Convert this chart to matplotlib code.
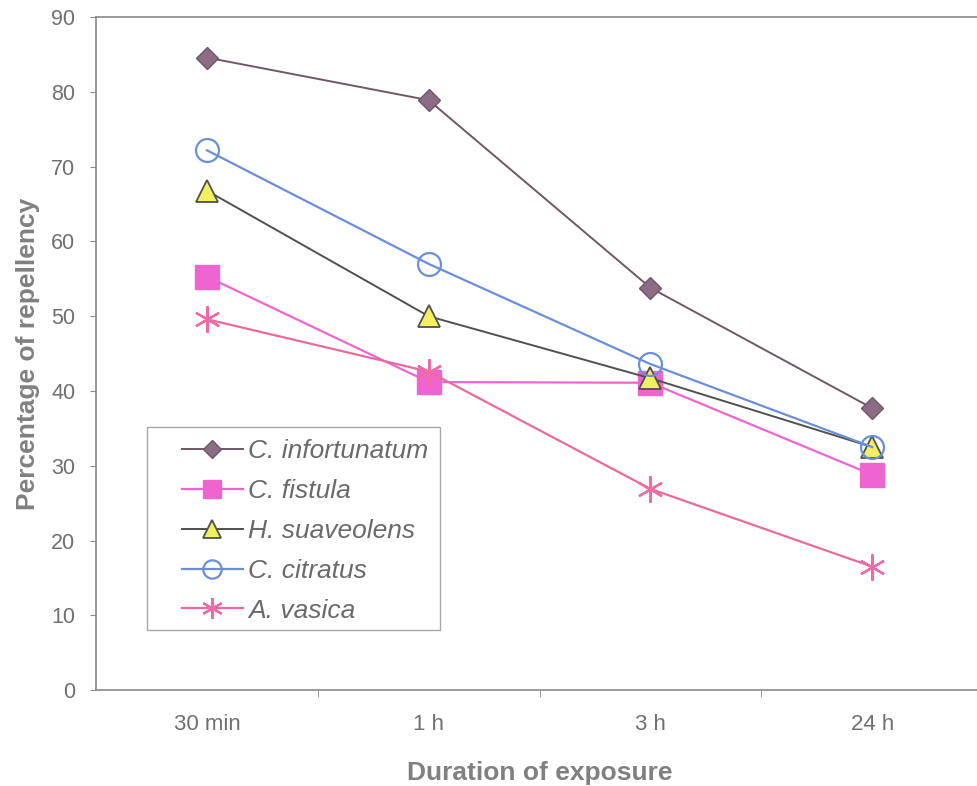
import matplotlib
matplotlib.use("Agg")
import matplotlib.pyplot as plt
from matplotlib.patches import Rectangle
from matplotlib.ticker import FixedLocator

plt.rcParams["font.family"] = ["Liberation Sans", "DejaVu Sans"]

durations = ["30 min", "1 h", "3 h", "24 h"]

c_infortunatum = [84.6, 78.9, 53.8, 37.7]
c_fistula = [55.3, 41.2, 41.1, 28.8]
h_suaveolens = [66.8, 50.0, 41.7, 32.5]
c_citratus = [72.2, 57.0, 43.6, 32.5]
a_vasica = [49.6, 42.6, 26.9, 16.5]

GREY = "#8a8a8a"
TEXT = "#707070"

fig = plt.figure(figsize=(9.77, 7.86), dpi=100)
# right spine falls just past the edge of the canvas
ax = fig.add_axes([0.0983, 0.1221, 0.908, 0.856])

x = list(range(len(durations)))

ax.plot(x, c_infortunatum, color="#6e5868", lw=1.4, marker="D", ms=11.5,
        mfc="#8c6c84", mec="#6e5868", mew=1, label="C. infortunatum", zorder=3)
ax.plot(x, c_fistula, color="#f064d2", lw=1.6, marker="s", ms=17,
        mfc="#f064d2", mec="#f064d2", label="C. fistula", zorder=3)
ax.plot(x, h_suaveolens, color="#505050", lw=1.4, marker="^", ms=16,
        mfc="#f2f060", mec="#505050", mew=1.3, label="H. suaveolens", zorder=4)
ax.plot(x, c_citratus, color="#6a8fd8", lw=1.6, marker="o", ms=16.5,
        mfc="none", mec="#6a8fd8", mew=1.6, label="C. citratus", zorder=4)
ax.plot(x, a_vasica, color="#e86a9e", lw=1.6, marker=(6, 2, 0), ms=19,
        mec="#f06aa8", mew=1.6, label="A. vasica", zorder=3)

ax.set_xlim(-0.5, len(durations) - 0.5)
ax.set_ylim(0, 90)
ax.set_yticks(range(0, 91, 10))
ax.set_xticks(x)
ax.set_xticklabels(durations)
ax.xaxis.set_minor_locator(FixedLocator([0.5, 1.5, 2.5]))
ax.tick_params(axis="x", which="major", length=0, pad=17, labelsize=16,
               labelcolor=TEXT)
ax.tick_params(axis="x", which="minor", length=5, color=GREY)
ax.tick_params(axis="y", length=4, color=GREY, labelsize=15.5,
               labelcolor=TEXT, pad=11)

for side in ("left", "bottom", "top"):
    ax.spines[side].set_color(GREY)
    ax.spines[side].set_linewidth(1.2)
ax.spines["right"].set_visible(False)

ax.set_xlabel("Duration of exposure", fontsize=19, fontweight="bold",
              color="#808080", labelpad=19)
ax.set_ylabel("Percentage of repellency", fontsize=19, fontweight="bold",
              color="#808080", labelpad=8)

# legend entries without a frame, boxed by a separate rectangle
ax.legend(loc="upper left", bbox_to_anchor=(0.097, 0.3726),
          prop={"style": "italic", "size": 19}, labelcolor="#6a6a6a",
          frameon=False, handlelength=2.3, handletextpad=0.2,
          borderpad=0, labelspacing=0.6, markerscale=0.8, borderaxespad=0)
ax.add_patch(Rectangle((0.0575, 0.0892), 0.330, 0.3016, transform=ax.transAxes,
                       fill=False, edgecolor="#a8a8a8", lw=1, zorder=5))

fig.savefig("out.png", dpi=100)
